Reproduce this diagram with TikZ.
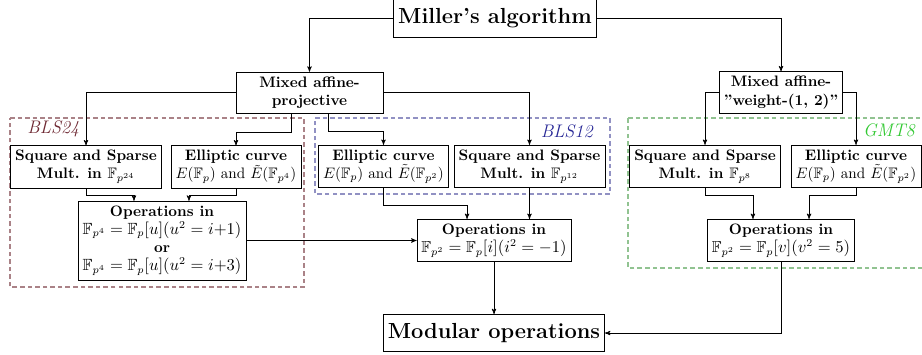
\documentclass[tikz,border=0pt]{standalone}
\usepackage{amssymb}
\usetikzlibrary{arrows}

\definecolor{blsA}{RGB}{110,40,50}
\definecolor{blsAframe}{RGB}{170,130,135}
\definecolor{blsB}{RGB}{40,40,150}
\definecolor{blsBframe}{RGB}{145,145,195}
\definecolor{gmt}{RGB}{50,200,50}
\definecolor{gmtframe}{RGB}{145,195,145}

\begin{document}
\begin{tikzpicture}[
    x=0.66pt,
    y=-0.66pt,
    thin,
    >=stealth',
    box/.style = {
      draw,
      align = center,
      font = \bfseries,
      inner sep = 3pt
    },
    bigbox/.style = {
      box,
      font = \Large\bfseries,
      minimum height = 24.5pt
    },
    famframe/.style = {
      dash pattern = on 3pt off 2pt,
      line width = 0.7pt
    }
  ]
  \useasboundingbox (0,0) rectangle (922,354);

  \draw[famframe, blsAframe] (10,118) -- (304,118) -- (304,287) -- (10,287) -- cycle;
  \draw[famframe, blsBframe] (315,118) -- (610,118) -- (610,194) -- (315,194) -- cycle;
  \draw[famframe, gmtframe] (628,118) -- (935,118) -- (935,268) -- (628,268) -- cycle;
  \node[anchor=west, text=blsA, font=\large\itshape] (lblA) at (22,129) {BLS24};
  \node[anchor=east, text=blsB, font=\large\itshape] (lblB) at (598,131) {BLS12};
  \node[anchor=east, text=gmt, font=\large\itshape] (lblC) at (920,130) {GMT8};

  \node[bigbox] (miller) at (495,18.3) {Miller's algorithm};
  \node[box, minimum width=97pt] (mixA) at (309.5,92.5) {Mixed affine-\\projective};
  \node[box] (mixW) at (781,92.5) {Mixed affine-\\''weight-(1, 2)''};

  \node[box] (sq24) at (86,167) {Square and Sparse\\Mult. in $\mathbb{F}_{p^{24}}$};
  \node[box] (ell24) at (236,167) {Elliptic curve\\{\mdseries $E(\mathbb{F}_p)$ and $\tilde{E}(\mathbb{F}_{p^4})$}};
  \node[box] (ell12) at (383.5,166.5) {Elliptic curve\\{\mdseries $E(\mathbb{F}_p)$ and $\tilde{E}(\mathbb{F}_{p^2})$}};
  \node[box] (sq12) at (529.5,166.5) {Square and Sparse\\Mult. in $\mathbb{F}_{p^{12}}$};
  \node[box] (sq8) at (705,166.5) {Square and Sparse\\Mult. in $\mathbb{F}_{p^{8}}$};
  \node[box] (ell8) at (856,166.5) {Elliptic curve\\{\mdseries $E(\mathbb{F}_p)$ and $\tilde{E}(\mathbb{F}_{p^2})$}};

  \node[box] (ops24) at (162,240.5) {Operations in\\{\mdseries\fontsize{10.7}{12.5}\selectfont $\mathbb{F}_{p^4}=\mathbb{F}_p[u](u^2=i{+}1)$}\\or\\{\mdseries\fontsize{10.7}{12.5}\selectfont $\mathbb{F}_{p^4}=\mathbb{F}_p[u](u^2=i{+}3)$}};
  \node[box] (ops12) at (494,240.5) {Operations in\\{\mdseries\fontsize{10.5}{12.5}\selectfont $\mathbb{F}_{p^2}=\mathbb{F}_p[i](i^2=-1)$}};
  \node[box] (ops8) at (781,240.5) {Operations in\\{\mdseries\fontsize{10.5}{12.5}\selectfont $\mathbb{F}_{p^2}=\mathbb{F}_p[v](v^2=5)$}};

  \node[bigbox] (modular) at (494,333) {Modular operations};

  \draw[->] (miller.west) -| (mixA.north);
  \draw[->] (miller.east) -| (mixW.north);

  \draw[->] (mixA.west) -| (sq24.north);
  \draw[->] ([xshift=-12.2pt]mixA.south) -- ++(0,19) -| (ell24.north);
  \draw[->] ([xshift=12.2pt]mixA.south) -- ++(0,18) -| (ell12.north);
  \draw[->] (mixA.east) -| (sq12.north);
  \draw[->] (mixW.west) -| (sq8.north);
  \draw[->] (mixW.east) -| (ell8.north);

  \draw[->] (sq24.south) -- ++(0,7) -| ([xshift=-18.5pt]ops24.north);
  \draw[->] (ell24.south) -- ++(0,7) -| ([xshift=17.8pt]ops24.north);
  \draw[->] (ell12.south) -- ++(0,17) -| ([xshift=-17.8pt]ops12.north);
  \draw[->] (sq12.south) -- (sq12.south |- ops12.north);
  \draw[->] (sq8.south) -- ++(0,7) -| ([xshift=-18.5pt]ops8.north);
  \draw[->] (ell8.south) -- ++(0,7) -| ([xshift=18.5pt]ops8.north);

  \draw[->] (ops24.east) -- (ops12.west);
  \draw[->] (ops12.south) -- (modular.north);
  \draw[->] (ops8.south) |- (modular.east);
\end{tikzpicture}
\end{document}
